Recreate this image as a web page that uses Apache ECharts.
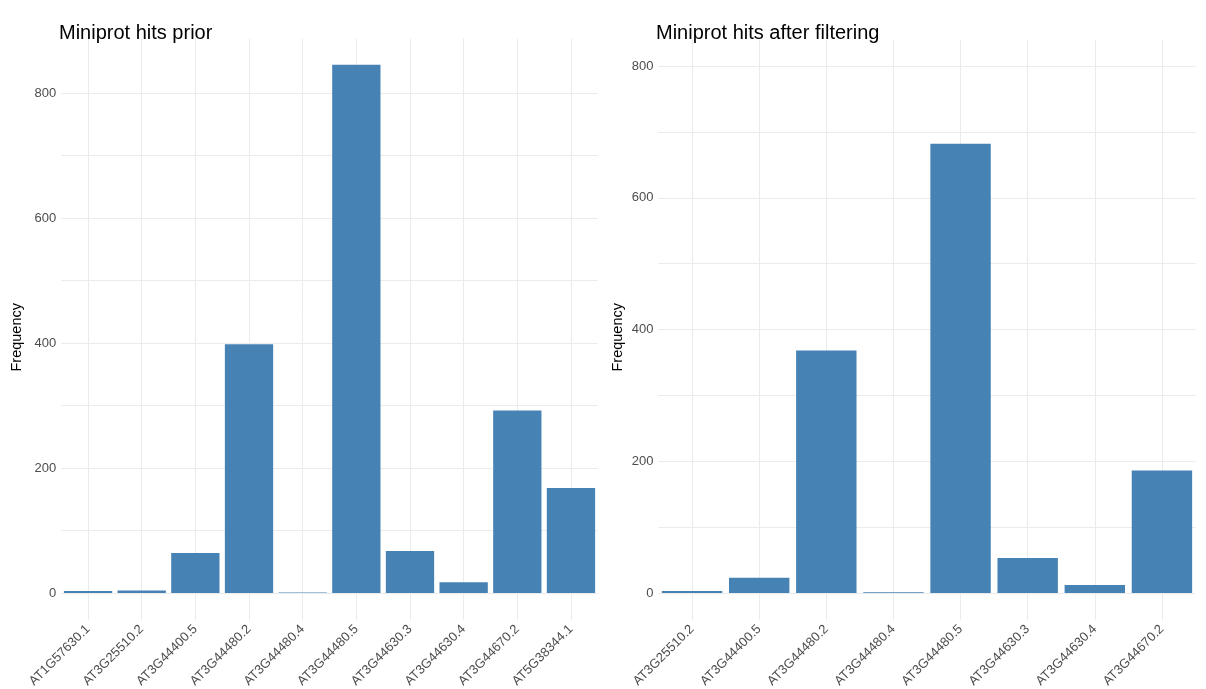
<!DOCTYPE html>
<html>
<head>
<meta charset="utf-8">
<title>Miniprot hits</title>
<script src="https://cdn.jsdelivr.net/npm/echarts@6/dist/echarts.min.js"></script>
<style>
  html, body { margin: 0; padding: 0; background: #ffffff; }
  #chart { width: 1206px; height: 689px; }
</style>
</head>
<body>
<div id="chart"></div>
<script>
// Hit counts per reference protein, before filtering
const priorCategories = [
  'AT1G57630.1', 'AT3G25510.2', 'AT3G44400.5', 'AT3G44480.2', 'AT3G44480.4',
  'AT3G44480.5', 'AT3G44630.3', 'AT3G44630.4', 'AT3G44670.2', 'AT5G38344.1'
];
const priorCounts = [3, 4, 64, 398, 1, 845, 67, 17, 292, 168];

// Hit counts per reference protein, after filtering
const filteredCategories = [
  'AT3G25510.2', 'AT3G44400.5', 'AT3G44480.2', 'AT3G44480.4',
  'AT3G44480.5', 'AT3G44630.3', 'AT3G44630.4', 'AT3G44670.2'
];
const filteredCounts = [3, 23, 368, 1, 682, 53, 12, 186];

// Y-axis breaks (labelled) and upper limits of each panel
const yBreaks = [0, 200, 400, 600, 800];
const priorMax = 887;
const filteredMax = 840;

const FONT = '"Liberation Sans", Arial, Helvetica, sans-serif';
const GRID = '#ebebeb';
const AXIS_TEXT = '#4d4d4d';
const BAR = '#4682B4';

function xAxisFor(gridIndex, cats) {
  return {
    type: 'category',
    gridIndex: gridIndex,
    data: cats,
    axisLine: { show: false },
    axisTick: { show: true, alignWithLabel: true, length: 27, lineStyle: { color: GRID, width: 1 } },
    splitLine: { show: true, alignWithLabel: true, lineStyle: { color: GRID, width: 1 } },
    axisLabel: {
      rotate: 45, margin: 34, color: AXIS_TEXT, fontSize: 13, fontFamily: FONT,
      interval: 0
    }
  };
}

function yAxisFor(gridIndex, max) {
  return {
    type: 'value',
    gridIndex: gridIndex,
    min: 0,
    max: max,
    interval: 100,
    axisLine: { show: false },
    axisTick: { show: false },
    splitLine: { show: true, showMaxLine: false, lineStyle: { color: GRID, width: 1 } },
    axisLabel: {
      margin: 5, color: AXIS_TEXT, fontSize: 13, fontFamily: FONT,
      showMaxLabel: false,
      formatter: function (v) { return yBreaks.indexOf(v) >= 0 ? String(v) : ''; }
    }
  };
}

function barSeries(idx, data) {
  return {
    type: 'bar',
    xAxisIndex: idx,
    yAxisIndex: idx,
    data: data,
    barCategoryGap: '10%',
    itemStyle: { color: BAR },
    animation: false
  };
}

const chart = echarts.init(document.getElementById('chart'), null, { renderer: 'canvas' });
chart.setOption({
  backgroundColor: '#ffffff',
  animation: false,
  title: [
    { text: 'Miniprot hits prior', left: 54, top: 18,
      textStyle: { fontFamily: FONT, fontSize: 20, fontWeight: 'normal', color: '#000000' } },
    { text: 'Miniprot hits after filtering', left: 651, top: 18,
      textStyle: { fontFamily: FONT, fontSize: 20, fontWeight: 'normal', color: '#000000' } }
  ],
  grid: [
    { left: 61.2, right: 608.2, top: 38.6, bottom: 96, containLabel: false, outerBoundsMode: 'none' },
    { left: 658.5, right: 10.5, top: 39.7, bottom: 96, containLabel: false, outerBoundsMode: 'none' }
  ],
  xAxis: [xAxisFor(0, priorCategories), xAxisFor(1, filteredCategories)],
  yAxis: [yAxisFor(0, priorMax), yAxisFor(1, filteredMax)],
  series: [barSeries(0, priorCounts), barSeries(1, filteredCounts)],
  graphic: [
    { type: 'text', left: 9, top: 303, rotation: Math.PI / 2,
      style: { text: 'Frequency', fontFamily: FONT, fontSize: 14.5, fill: '#000000' } },
    { type: 'text', left: 610, top: 303, rotation: Math.PI / 2,
      style: { text: 'Frequency', fontFamily: FONT, fontSize: 14.5, fill: '#000000' } }
  ]
});
</script>
</body>
</html>
